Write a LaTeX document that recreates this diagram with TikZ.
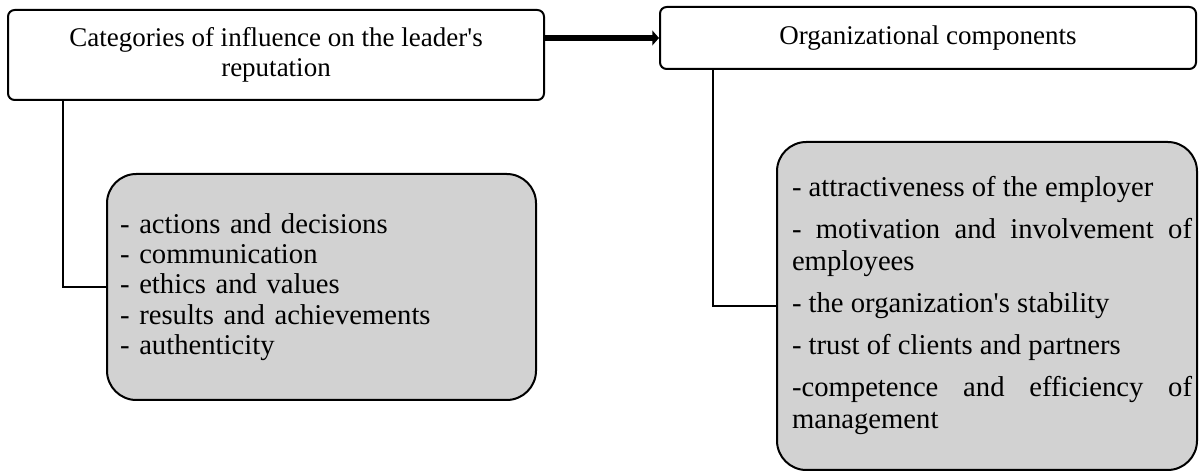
\documentclass[tikz,border=0pt]{standalone}
\usepackage{fontspec}
\setmainfont{Liberation Serif}[Ligatures=TeXOff]
\usetikzlibrary{arrows.meta}

\definecolor{boxgray}{RGB}{210,210,210}

\tikzset{
  headbox/.style={draw=black, line width=1.5pt, rounded corners=5pt, align=center, inner sep=0pt,
    font=\fontsize{20.25}{23}\selectfont},
  listbox/.style={draw=black, line width=1.5pt, fill=boxgray, rounded corners=22pt, inner sep=0pt},
  link/.style={line width=1.5pt},
}
\newcommand{\nobreaks}{\hyphenpenalty=10000\exhyphenpenalty=10000\parindent=0pt}

\begin{document}
\begin{tikzpicture}[x=0.75pt, y=-0.75pt]
		\useasboundingbox (0,0) rectangle (1199,473);
		
		%headers
		\node[headbox, minimum width=402pt, minimum height=67.5pt] (cat) at (276,55) {Categories of influence on the leader's\\reputation};
		\node[headbox, minimum width=402pt, minimum height=46.5pt] (org) at (928,38) {Organizational components};
		
		%lists
		\node[listbox, minimum width=321.75pt, minimum height=169.5pt, text width=302pt, align=left,
		  font=\fontsize{21.5}{22.8}\selectfont\nobreaks] (infl) at (321.5,287)
		  {- actions and decisions\\- communication\\- ethics and values\\- results and achievements\\- authenticity};
		\node[listbox, minimum width=315pt, minimum height=246pt, text width=307.5pt, align=justify,
		  font=\fontsize{21.5}{24}\selectfont\nobreaks] (comp) at (987,306)
		  {\setlength{\parskip}{7.5pt}\leftskip=7.5pt - attractiveness of the employer\par
		   - motivation and involvement of employees\par
		   - the organization's stability\par
		   - trust of clients and partners\par
		   -competence and efficiency of management\par};
		
		%drops
		\coordinate (catdrop) at (63,0);
		\coordinate (orgdrop) at (713,0);
		\draw[link] (cat.south -| catdrop) |- (infl.west);
		\draw[link] (org.south -| orgdrop) |- (comp.west);
		
		%arrow
		\draw[line width=5pt, -{Triangle[length=5pt,width=11pt]}] (cat.east |- org.west) -- (org.west);
		
\end{tikzpicture}
\end{document}
